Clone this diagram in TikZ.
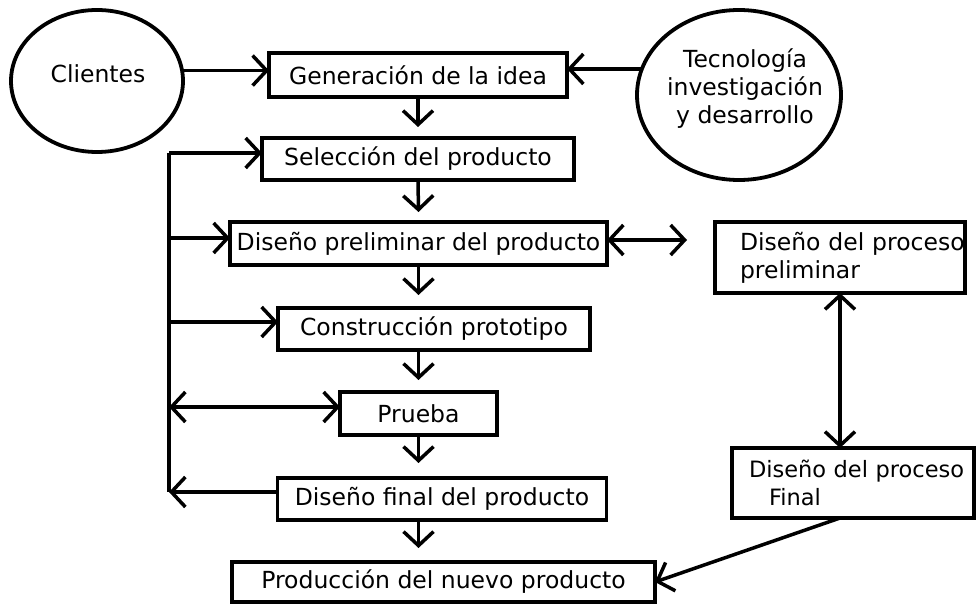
\documentclass[tikz,border=0pt]{standalone}
\usepackage{fontspec}
\setmainfont{DejaVu Sans}
\usetikzlibrary{arrows.meta,shapes.geometric}
\begin{document}
\begin{tikzpicture}[x=1pt,y=-1pt,
  every node/.style={font=\fontsize{23.5}{28}\selectfont, inner sep=0pt, outer sep=0pt},
  box/.style={draw, line width=3.8pt, rectangle},
  oval/.style={draw, line width=3.8pt, ellipse},
  arr/.style={line width=3.5pt, -{Straight Barb[length=14pt,width=30pt]}},
  darr/.style={line width=3.5pt, {Straight Barb[length=14pt,width=30pt]}-{Straight Barb[length=14pt,width=30pt]}},
  bus/.style={line width=3.5pt}]
\useasboundingbox (0,0) rectangle (976,604);
% ovals
\node[oval, minimum width=172pt, minimum height=142pt] (cli) at (97,81) {};
\node (clit) at (98,74) {Clientes};
\node[oval, minimum width=204pt, minimum height=170pt] (tec) at (739,95) {};
\node[align=center] (tect) at (745,89) {Tecnología\\investigación\\y desarrollo};
% main boxes
\node[box, minimum width=298pt, minimum height=44pt] (gen) at (418,75) {Generación de la idea};
\node[box, minimum width=312pt, minimum height=42pt] (sel) at (418,159) {Selección del producto};
\node[box, minimum width=377pt, minimum height=43pt] (pre) at (418.5,243.5) {Diseño preliminar del producto};
\node[box, minimum width=312pt, minimum height=42pt] (con) at (434,329) {Construcción prototipo};
\node[box, minimum width=157pt, minimum height=43pt] (pru) at (418.5,413.5) {Prueba};
\node[box, minimum width=329pt, minimum height=42pt] (fin) at (442,499) {Diseño final del producto};
\node[box, minimum width=423pt, minimum height=40pt] (prod) at (443.5,582) {Producción del nuevo producto};
% process boxes
\node[box, minimum width=250pt, minimum height=71pt, text width=200pt, align=left] (ppre) at (840,257.5) {\mbox{Diseño del proceso}\\preliminar};
\node[box, minimum width=242pt, minimum height=70pt, text width=208pt, align=left, font=\fontsize{22.5}{28}\selectfont] (pfin) at (853,483) {\mbox{Diseño del proceso}\\\hspace*{20pt}Final};
% connectors
\draw[arr] (cli.7) -- (cli.7 -| gen.west);
\draw[arr] (tec.165) -- (tec.165 -| gen.east);
\draw[arr] (gen.south) -- ([yshift=11pt]sel.north);
\draw[arr] (sel.south) -- ([yshift=10pt]pre.north);
\draw[arr] (pre.south) -- ([yshift=13pt]pre.south |- con.north);
\draw[arr] (pru.north |- con.south) -- ([yshift=12pt]pru.north);
\draw[arr] (pru.south) -- ([yshift=15pt]pru.south |- fin.north);
\draw[arr] (pru.south |- fin.south) -- ([yshift=14pt]pru.south |- prod.north);
% left bus
\coordinate (b1) at (169,153);
\coordinate (b2) at (169,238);
\coordinate (b3) at (169,322);
\coordinate (b4) at (169,407);
\coordinate (b5) at (169,492);
\draw[bus] (b1) -- (b5);
\draw[arr] (b1) -- (b1 -| sel.west);
\draw[arr] (b2) -- (b2 -| pre.west);
\draw[arr] (b3) -- (b3 -| con.west);
\draw[darr] (b4) -- (b4 -| pru.west);
\draw[arr] (b5 -| fin.west) -- (b5);
% right side
\coordinate (p1) at (607,240);
\draw[darr, shorten >=28pt] (p1) -- (p1 -| ppre.west);
\draw[darr] (ppre.south) -- (ppre.south |- pfin.north);
\draw[arr] (ppre.south |- pfin.south) -- (prod.east);
\end{tikzpicture}
\end{document}
